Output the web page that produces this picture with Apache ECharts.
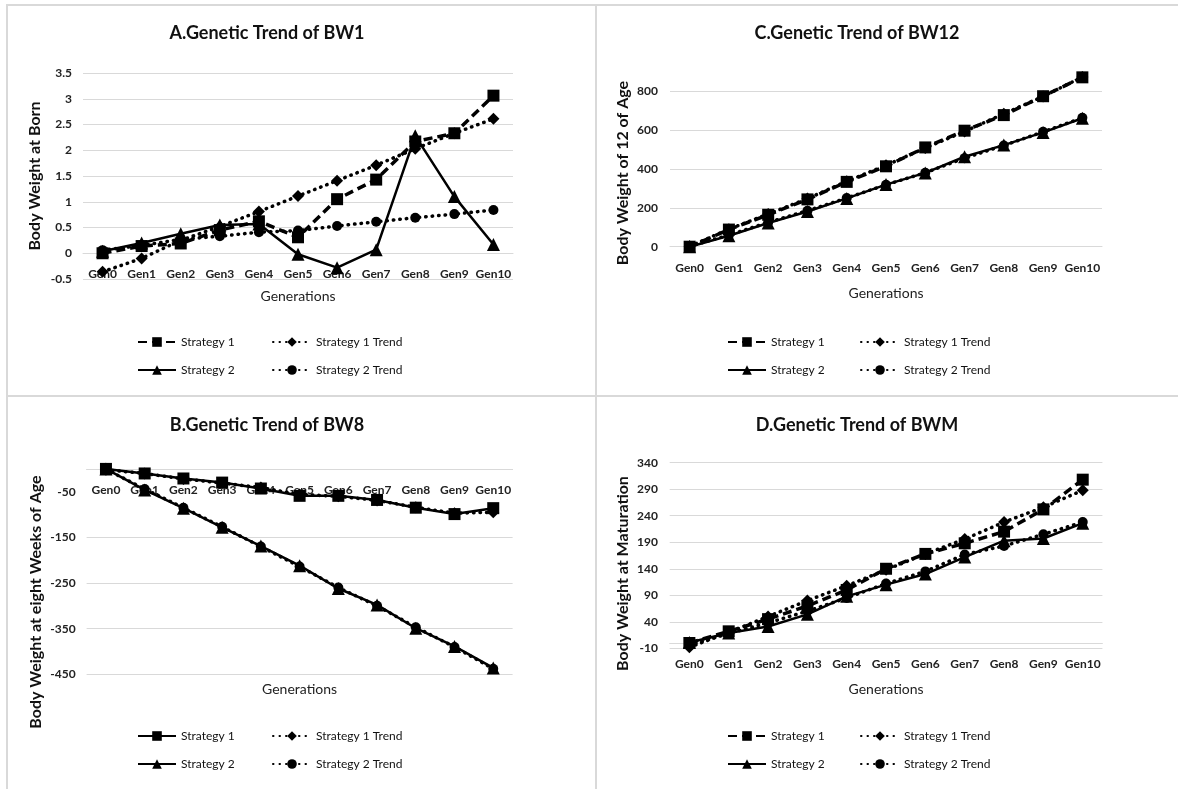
<!DOCTYPE html>
<html><head><meta charset="utf-8">
<script src="https://cdn.jsdelivr.net/npm/echarts@6/dist/echarts.min.js"></script>
<style>
html,body{margin:0;padding:0;background:#fff;}
body{width:1178px;height:789px;position:relative;overflow:hidden;}
.panel{position:absolute;}
.line{position:absolute;background:#d9d9d9;}
</style></head><body>
<div class="line" style="left:6px;top:4px;width:2px;height:785px"></div>
<div class="line" style="left:6px;top:4px;width:1172px;height:2px"></div>
<div class="line" style="left:595px;top:4px;width:2px;height:785px"></div>
<div class="line" style="left:6px;top:395px;width:1172px;height:2px"></div>
<div id="pA" class="panel" style="left:0;top:0;width:596px;height:396px"></div>
<div id="pC" class="panel" style="left:596px;top:0;width:582px;height:396px"></div>
<div id="pB" class="panel" style="left:0;top:396px;width:596px;height:393px"></div>
<div id="pD" class="panel" style="left:596px;top:396px;width:582px;height:393px"></div>
<script>
const generations = ['Gen0','Gen1','Gen2','Gen3','Gen4','Gen5','Gen6','Gen7','Gen8','Gen9','Gen10'];
const seriesNames = ['Strategy 1','Strategy 2','Strategy 1 Trend','Strategy 2 Trend'];
// A. BW1
const bw1Strategy1 = [0.00, 0.14, 0.19, 0.45, 0.62, 0.31, 1.05, 1.43, 2.17, 2.33, 3.06];
const bw1Strategy2 = [0.04, 0.20, 0.38, 0.55, 0.57, -0.02, -0.28, 0.07, 2.28, 1.10, 0.17];
const bw1Strategy1Trend = [-0.36, -0.10, 0.25, 0.52, 0.81, 1.11, 1.41, 1.71, 2.03, 2.33, 2.61];
const bw1Strategy2Trend = [0.06, 0.15, 0.27, 0.33, 0.41, 0.44, 0.53, 0.61, 0.69, 0.76, 0.84];
const bw1Ticks = [-0.5, 3.5, 0.5];
// B. BW8
const bw8Strategy1 = [0, -10, -21, -30, -43, -59, -59, -68, -85, -99, -86];
const bw8Strategy2 = [0, -46, -86, -128, -169, -212, -262, -298, -349, -389, -436];
const bw8Strategy1Trend = [-2, -10, -22, -31, -41, -56, -60, -69, -84, -97, -95];
const bw8Strategy2Trend = [-1, -44, -85, -127, -170, -214, -260, -300, -347, -390, -438];
const bw8Ticks = [-450, 0, 100];
// C. BW12
const bw12Strategy1 = [0, 88, 164, 243, 333, 413, 510, 596, 676, 773, 870];
const bw12Strategy2 = [0, 56, 122, 181, 248, 319, 379, 462, 522, 587, 660];
const bw12Strategy1Trend = [2, 90, 168, 247, 336, 418, 507, 592, 683, 772, 872];
const bw12Strategy2Trend = [2, 60, 125, 185, 250, 318, 380, 455, 520, 590, 662];
const bw12Ticks = [0, 900, 200];
// D. BWM
const bwmStrategy1 = [0, 22, 45, 70, 100, 140, 168, 188, 210, 252, 308];
const bwmStrategy2 = [1, 19, 31, 54, 88, 110, 130, 162, 193, 197, 226];
const bwmStrategy1Trend = [-8, 20, 50, 80, 108, 138, 168, 196, 228, 256, 288];
const bwmStrategy2Trend = [-4, 18, 38, 60, 85, 112, 135, 167, 183, 205, 228];
const bwmTicks = [-10, 340, 50];

const FONT = 'Lato';
const styles = {
  dash:   {lineStyle:{type:[9,5], width:3.5, color:'#000'}, symbol:'rect', symbolSize:12},
  solidsq:{lineStyle:{type:'solid', width:2.5, color:'#000'}, symbol:'rect', symbolSize:12},
  tri:    {lineStyle:{type:'solid', width:2.5, color:'#000'}, symbol:'triangle', symbolSize:13},
  dotdia: {lineStyle:{type:[0.5,6], cap:'round', width:3.5, color:'#000'}, symbol:'diamond', symbolSize:12},
  dotcir: {lineStyle:{type:[0.5,6], cap:'round', width:3.5, color:'#000'}, symbol:'circle', symbolSize:10}
};
function ser(name, data, kind){
  const s = styles[kind];
  return {type:'line', name, data, symbol:s.symbol, symbolSize:s.symbolSize,
    lineStyle:s.lineStyle, itemStyle:{color:'#000'}, emphasis:{disabled:true}, silent:true};
}
function build(el, cfg){
  const chart = echarts.init(document.getElementById(el), null, {renderer:'canvas'});
  const legendBase = {orient:'vertical', itemGap:16, itemWidth:38, itemHeight:12, padding:0,
    textStyle:{fontFamily:FONT, fontSize:12, color:'#111'}, selectedMode:false};
  chart.setOption({
    animation:false,
    title:{text:cfg.title, left:cfg.titleX, top:cfg.titleY, textAlign:'center', padding:0,
      textStyle:{fontFamily:FONT, fontWeight:'bold', fontSize:18, color:'#111'}},
    grid:Object.assign({outerBoundsMode:'none', containLabel:false}, cfg.grid),
    legend:[
      Object.assign({}, legendBase, {left:cfg.legX[0], top:cfg.legY, data:[seriesNames[0], seriesNames[1]]}),
      Object.assign({}, legendBase, {left:cfg.legX[1], top:cfg.legY, data:[seriesNames[2], seriesNames[3]]})
    ],
    xAxis:{type:'category', data:generations, boundaryGap:true, position:'bottom', offset:cfg.xOffset,
      axisLine:{onZero:false, lineStyle:{color:'#d9d9d9', width:1}},
      axisTick:{show:false},
      axisLabel:{margin:15, fontFamily:FONT, fontWeight:'bold', fontSize:12, color:'#222', interval:0},
      name:'Generations', nameLocation:'middle', nameGap:cfg.nameGap,
      nameTextStyle:{fontFamily:FONT, fontSize:14, color:'#222'}},
    yAxis:{type:'value', min:cfg.ticks[0], max:cfg.ticks[1], interval:cfg.ticks[2],
      axisLine:{show:false}, axisTick:{show:false},
      splitLine:Object.assign({lineStyle:{color:cfg.splitColors || '#d9d9d9', width:1}}, cfg.splitExtra || {}),
      axisLabel:Object.assign({margin:cfg.yMargin, fontFamily:FONT, fontWeight:'bold', fontSize:12, color:'#222'}, cfg.labelExtra || {})},
    graphic:[{type:'text', x:cfg.yName[0], y:cfg.yName[1], rotation:Math.PI/2,
      style:{text:cfg.yNameText, fontFamily:FONT, fontWeight:'bold', fontSize:16, fill:'#111', align:'center', verticalAlign:'middle'}}],
    series:cfg.series
  });
}
build('pA', {
  title:'A.Genetic Trend of BW1', titleX:267, titleY:24,
  grid:{left:83, top:73, width:430, height:206},
  ticks:bw1Ticks, yMargin:11, nameGap:36, xOffset:-25.75,
  legX:[137,272], legY:336,
  yName:[35,176], yNameText:'Body Weight at Born',
  series:[ser(seriesNames[0], bw1Strategy1, 'dash'), ser(seriesNames[1], bw1Strategy2, 'tri'),
          ser(seriesNames[2], bw1Strategy1Trend, 'dotdia'), ser(seriesNames[3], bw1Strategy2Trend, 'dotcir')]
});
build('pC', {
  title:'C.Genetic Trend of BW12', titleX:261, titleY:24,
  grid:{left:74, top:71.5, width:432, height:175.2},
  ticks:bw12Ticks, yMargin:12, nameGap:40, xOffset:0,
  splitExtra:{showMaxLine:false}, labelExtra:{showMaxLabel:false},
  legX:[131,264], legY:336,
  yName:[27,173], yNameText:'Body Weight of 12 of Age',
  series:[ser(seriesNames[0], bw12Strategy1, 'dash'), ser(seriesNames[1], bw12Strategy2, 'tri'),
          ser(seriesNames[2], bw12Strategy1Trend, 'dotdia'), ser(seriesNames[3], bw12Strategy2Trend, 'dotcir')]
});
build('pB', {
  title:'B.Genetic Trend of BW8', titleX:267, titleY:20,
  grid:{left:86.6, top:72.9, width:426, height:205.4},
  ticks:bw8Ticks, yMargin:11, nameGap:214, xOffset:-205.4,
  splitColors:['#d9d9d9','#d9d9d9','#d9d9d9','#d9d9d9','rgba(0,0,0,0)','#d9d9d9'],
  labelExtra:{showMaxLabel:false},
  legX:[137,272], legY:334,
  yName:[36,206], yNameText:'Body Weight at eight Weeks of Age',
  series:[ser(seriesNames[0], bw8Strategy1, 'solidsq'), ser(seriesNames[1], bw8Strategy2, 'tri'),
          ser(seriesNames[2], bw8Strategy1Trend, 'dotdia'), ser(seriesNames[3], bw8Strategy2Trend, 'dotcir')]
});
build('pD', {
  title:'D.Genetic Trend of BWM', titleX:261, titleY:20,
  grid:{left:73.7, top:66.7, width:432.7, height:185.6},
  ticks:bwmTicks, yMargin:11.7, nameGap:39.3, xOffset:-5.3,
  legX:[131,264], legY:334,
  yName:[27,177.5], yNameText:'Body Weight at Maturation',
  series:[ser(seriesNames[0], bwmStrategy1, 'dash'), ser(seriesNames[1], bwmStrategy2, 'tri'),
          ser(seriesNames[2], bwmStrategy1Trend, 'dotdia'), ser(seriesNames[3], bwmStrategy2Trend, 'dotcir')]
});
</script>
</body></html>
